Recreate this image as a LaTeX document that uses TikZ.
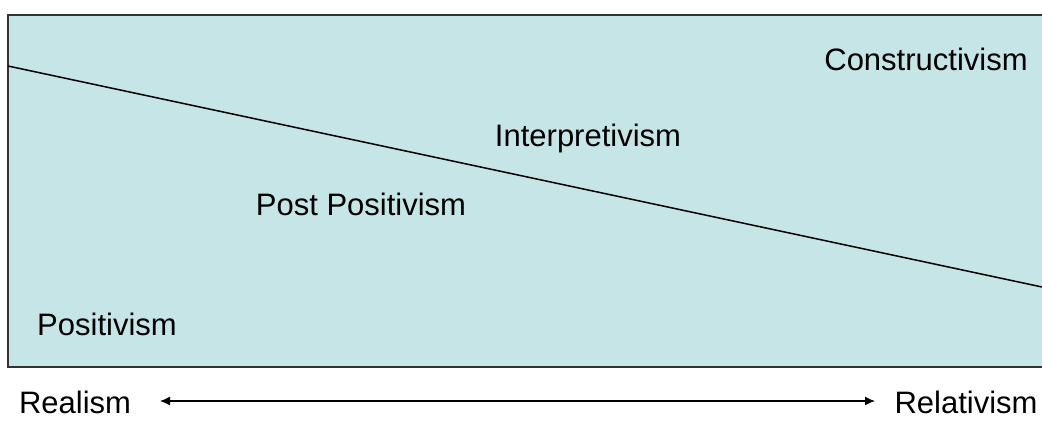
\documentclass[tikz,border=0pt]{standalone}
\usepackage{fontspec}
\setmainfont{Liberation Sans}
\usetikzlibrary{arrows.meta}
\definecolor{paneblue}{RGB}{198,229,231}
\definecolor{paneedge}{RGB}{50,50,50}
\tikzset{
  term/.style={anchor=base, inner sep=0pt, font=\fontsize{31}{37}\selectfont},
}
\begin{document}
\begin{tikzpicture}[x=1pt,y=-1pt]
  \useasboundingbox (0,0) rectangle (1042,421);
  \clip (0,0) rectangle (1042,421);
  % shaded pane, open on the right
  \fill[paneblue] (8,15) rectangle (1050,367);
  \draw[paneedge, line width=2pt] (1050,15) -- (8,15) -- (8,367) -- (1050,367);
  \draw[line width=1.5pt] (8,66) -- (1042,287);
  % paradigms
  \node[term] (constr) at (926,70) {Constructivism};
  \node[term] (interp) at (588,146) {Interpretivism};
  \node[term] (postpos) at (361,215) {Post Positivism};
  \node[term] (pos) at (107,335) {Positivism};
  % ontology axis
  \node[term] (realism) at (75,413) {Realism};
  \node[term] (relativ) at (966,413) {Relativism};
  \coordinate (axisL) at (160,401);
  \coordinate (axisR) at (875,401);
  \draw[line width=1.3pt, {Latex[length=10pt,width=9pt]}-{Latex[length=10pt,width=9pt]}] (axisL) -- (axisR);
\end{tikzpicture}
\end{document}
